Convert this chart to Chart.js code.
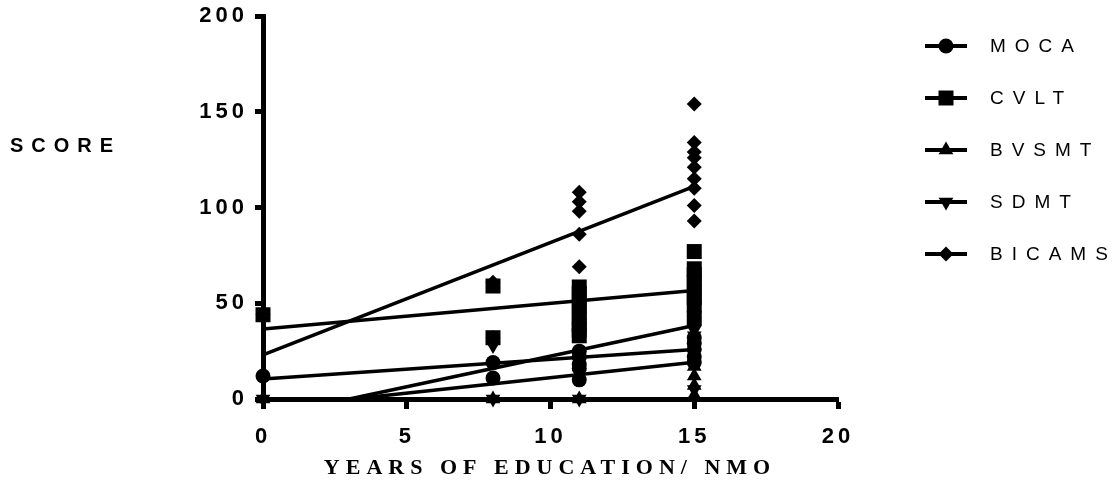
<!DOCTYPE html>
<html>
<head>
<meta charset="utf-8">
<title>Score by years of education</title>
<script src="https://cdn.jsdelivr.net/npm/chart.js@4.4.1/dist/chart.umd.min.js"></script>
<style>
  html, body { margin: 0; padding: 0; background: #fff; }
  canvas { display: block; }
</style>
</head>
<body>
<canvas id="scoreChart" width="1118" height="498"></canvas>
<script>
// each test: [years of education, score] per subject
const mocaScores = [[0, 12], [8, 19], [8, 11], [11, 25], [11, 22], [11, 18], [11, 16], [11, 10],
  [15, 32], [15, 29], [15, 26], [15, 22], [15, 19]];
const cvltScores = [[0, 44], [8, 59], [8, 32], [11, 58.5], [11, 55], [11, 51], [11, 47], [11, 43],
  [11, 39], [11, 36], [11, 33], [15, 77], [15, 68], [15, 65], [15, 61], [15, 57], [15, 53],
  [15, 49], [15, 42]];
const bvsmtScores = [[0, 0], [8, 0], [11, 0], [11, 17], [11, 23], [15, 17], [15, 12], [15, 7], [15, 2]];
const sdmtScores = [[0, 0], [8, 28], [8, 0], [11, 0], [11, 38], [11, 45], [15, 36], [15, 40],
  [15, 33], [15, 5]];
const bicamsScores = [[0, 44], [8, 61], [8, 32], [11, 108], [11, 103], [11, 98], [11, 86], [11, 69],
  [15, 154], [15, 134], [15, 129], [15, 126], [15, 121], [15, 115], [15, 110], [15, 101], [15, 93]];

// fitted regression lines, start and end point
const mocaFit = [[0, 10.4], [15, 25.9]];
const cvltFit = [[0, 36.5], [15, 56.7]];
const bvsmtFit = [[3.1, 0], [15, 19.2]];
const sdmtFit = [[3.0, 0], [15, 38.4]];
const bicamsFit = [[0, 23], [15, 111]];

const seriesNames = ["MOCA", "CVLT", "BVSMT", "SDMT", "BICAMS"];
const xTicks = [0, 5, 10, 15, 20];
const yTicks = [0, 50, 100, 150, 200];

const series = [
  { name: seriesNames[0], points: mocaScores, fit: mocaFit, style: "circle", radius: 7.5, rotation: 0 },
  { name: seriesNames[1], points: cvltScores, fit: cvltFit, style: "rect", radius: 10.6, rotation: 0 },
  { name: seriesNames[2], points: bvsmtScores, fit: bvsmtFit, style: "triangle", radius: 8.5, rotation: 0 },
  { name: seriesNames[3], points: sdmtScores, fit: sdmtFit, style: "triangle", radius: 8.5, rotation: 180 },
  { name: seriesNames[4], points: bicamsScores, fit: bicamsFit, style: "rectRot", radius: 7.5, rotation: 0 },
];

const toXY = (pairs) => pairs.map(([x, y]) => ({ x, y }));

const datasets = [];
series.forEach((s) => {
  datasets.push({
    type: "scatter",
    label: s.name,
    data: toXY(s.points),
    pointStyle: s.style,
    pointRadius: s.radius,
    pointHoverRadius: s.radius,
    pointRotation: s.rotation,
    pointBackgroundColor: "#000",
    pointBorderWidth: 0,
    clip: false,
  });
  datasets.push({
    type: "line",
    label: s.name + " fit",
    data: toXY(s.fit),
    borderColor: "#000",
    borderWidth: 3.5,
    pointRadius: 0,
    pointHoverRadius: 0,
    fill: false,
    clip: false,
  });
});

const tickFont = { family: "'Liberation Sans', Arial, sans-serif", size: 22, weight: "bold" };

// axis titles, spaced tick text and the side legend
const decorations = {
  id: "decorations",
  beforeDraw(chart) {
    chart.ctx.letterSpacing = "4px";
  },
  afterDraw(chart) {
    const ctx = chart.ctx;
    ctx.save();
    ctx.fillStyle = "#000";
    ctx.strokeStyle = "#000";

    ctx.font = "bold 20px 'Liberation Sans', Arial, sans-serif";
    ctx.letterSpacing = "8px";
    ctx.textAlign = "left";
    ctx.textBaseline = "middle";
    ctx.fillText("SCORE", 10, 146);

    ctx.font = "bold 22px 'Liberation Serif', 'Times New Roman', serif";
    ctx.letterSpacing = "6px";
    ctx.textAlign = "center";
    ctx.fillText("YEARS OF EDUCATION/ NMO", 550, 468);

    ctx.font = "19px 'Liberation Sans', Arial, sans-serif";
    ctx.letterSpacing = "9px";
    ctx.textAlign = "left";
    series.forEach((s, i) => {
      const y = 46 + i * 52;
      ctx.lineWidth = 4;
      ctx.beginPath();
      ctx.moveTo(925, y);
      ctx.lineTo(967, y);
      ctx.stroke();
      Chart.helpers.drawPoint(ctx, {
        pointStyle: s.style,
        radius: s.radius,
        rotation: s.rotation,
        borderWidth: 0,
      }, 946, y);
      ctx.fillText(s.name, 990, y + 1);
    });
    ctx.restore();
    ctx.letterSpacing = "0px";
  },
};

new Chart(document.getElementById("scoreChart"), {
  type: "scatter",
  data: { datasets },
  plugins: [decorations],
  options: {
    responsive: false,
    devicePixelRatio: 1,
    animation: false,
    events: [],
    layout: { padding: { left: 0, top: 16, right: 280, bottom: 0 } },
    plugins: { legend: { display: false }, tooltip: { enabled: false } },
    scales: {
      x: {
        type: "linear",
        min: 0,
        max: 20,
        afterBuildTicks: (axis) => { axis.ticks = xTicks.map((v) => ({ value: v })); },
        afterFit: (axis) => { axis.height = 99; axis.paddingLeft = 0; axis.paddingRight = 0; },
        border: { display: true, color: "#000", width: 5 },
        grid: { drawOnChartArea: false, drawTicks: true, tickLength: 10, tickWidth: 5, tickColor: "#000" },
        ticks: { color: "#000", padding: 15, font: tickFont, maxRotation: 0, callback: (v) => String(v) },
      },
      y: {
        type: "linear",
        min: 0,
        max: 200,
        afterBuildTicks: (axis) => { axis.ticks = yTicks.map((v) => ({ value: v })); },
        afterFit: (axis) => { axis.width = 263; axis.paddingTop = 0; axis.paddingBottom = 0; },
        border: { display: true, color: "#000", width: 5 },
        grid: { drawOnChartArea: false, drawTicks: true, tickLength: 8, tickWidth: 5, tickColor: "#000" },
        ticks: { color: "#000", padding: 7, font: tickFont, callback: (v) => String(v) },
      },
    },
  },
});
</script>
</body>
</html>
